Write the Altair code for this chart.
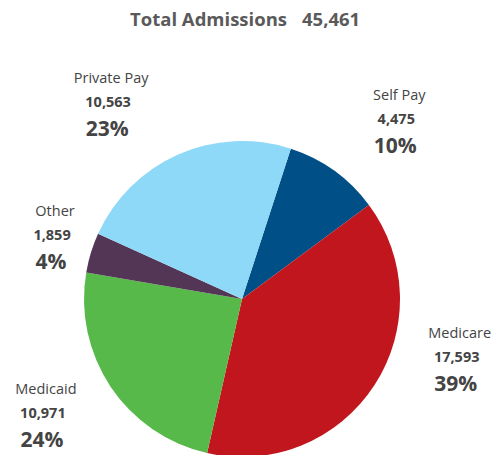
import math
import altair as alt
import pandas as pd

# ---- data ----
categories = ["Self Pay", "Medicare", "Medicaid", "Other", "Private Pay"]
admissions = [4475, 17593, 10971, 1859, 10563]
percent_labels = ["10%", "39%", "24%", "4%", "23%"]
colors = ["#004f86", "#c1161d", "#58b94b", "#533655", "#8ed8f8"]
title_parts = ["Total Admissions", "45,461"]

total = sum(admissions)
df = pd.DataFrame({
    "category": categories,
    "admissions": admissions,
    "pct": percent_labels,
    "count_label": [f"{v:,}" for v in admissions],
    "order": list(range(len(categories))),
})

FONT = "Open Sans"
CX, CY, R = 242, 299, 158
start_angle = math.radians(18)
theta_scale = alt.Scale(domain=[0, total], range=[start_angle, start_angle + 2 * math.pi])

base = (
    alt.Chart(df)
    .transform_stack(stack="admissions", as_=["start", "end"], groupby=[],
                     sort=[alt.SortField("order")])
    .transform_calculate(mid="(datum.start + datum.end) / 2")
)

pie = base.mark_arc(outerRadius=R).encode(
    theta=alt.Theta("start:Q", scale=theta_scale),
    theta2="end:Q",
    color=alt.Color("category:N", scale=alt.Scale(domain=categories, range=colors), legend=None),
    x=alt.value(CX),
    y=alt.value(CY),
)

# label placement nudges (layout only)
nudges = {
    "Self Pay": (20, 8),
    "Medicare": (22, -67),
    "Medicaid": (-8, -13),
    "Other": (30, 4),
    "Private Pay": (-41, 14),
}
lines = [
    # field, dx, dy, size, weight, color
    ("category", 3, -24, 14.5, "normal", "#444444"),
    ("count_label", 0, 0, 14.5, "bold", "#444444"),
    ("pct", -1, 27, 21, "bold", "#444444"),
]

layers = [pie]
for cat, (nx, ny) in nudges.items():
    for field, dx, dy, size, weight, col in lines:
        layers.append(
            base.transform_filter(alt.datum.category == cat)
            .mark_text(radius=230, dx=nx + dx, dy=ny + dy, fontSize=size,
                       fontWeight=weight, color=col, font=FONT,
                       align="center", baseline="middle")
            .encode(theta=alt.Theta("mid:Q", scale=theta_scale),
                    text=f"{field}:N", x=alt.value(CX), y=alt.value(CY))
        )

title_df = pd.DataFrame({"a": [title_parts[0]], "b": [title_parts[1]]})
t1 = alt.Chart(title_df).mark_text(align="right", baseline="middle", fontSize=18.5,
                                   fontWeight="bold", color="#5a5a5a", font=FONT).encode(
    text="a:N", x=alt.value(287), y=alt.value(20))
t2 = alt.Chart(title_df).mark_text(align="left", baseline="middle", fontSize=18.5,
                                   fontWeight="bold", color="#5a5a5a", font=FONT).encode(
    text="b:N", x=alt.value(302), y=alt.value(20))
layers += [t1, t2]

chart = (
    alt.layer(*layers)
    .properties(width=495, height=455, autosize=alt.AutoSizeParams(type="none"), padding=0)
    .configure_view(stroke=None)
)

chart.save("out.html", embed_options={"renderer": "svg", "actions": False})
